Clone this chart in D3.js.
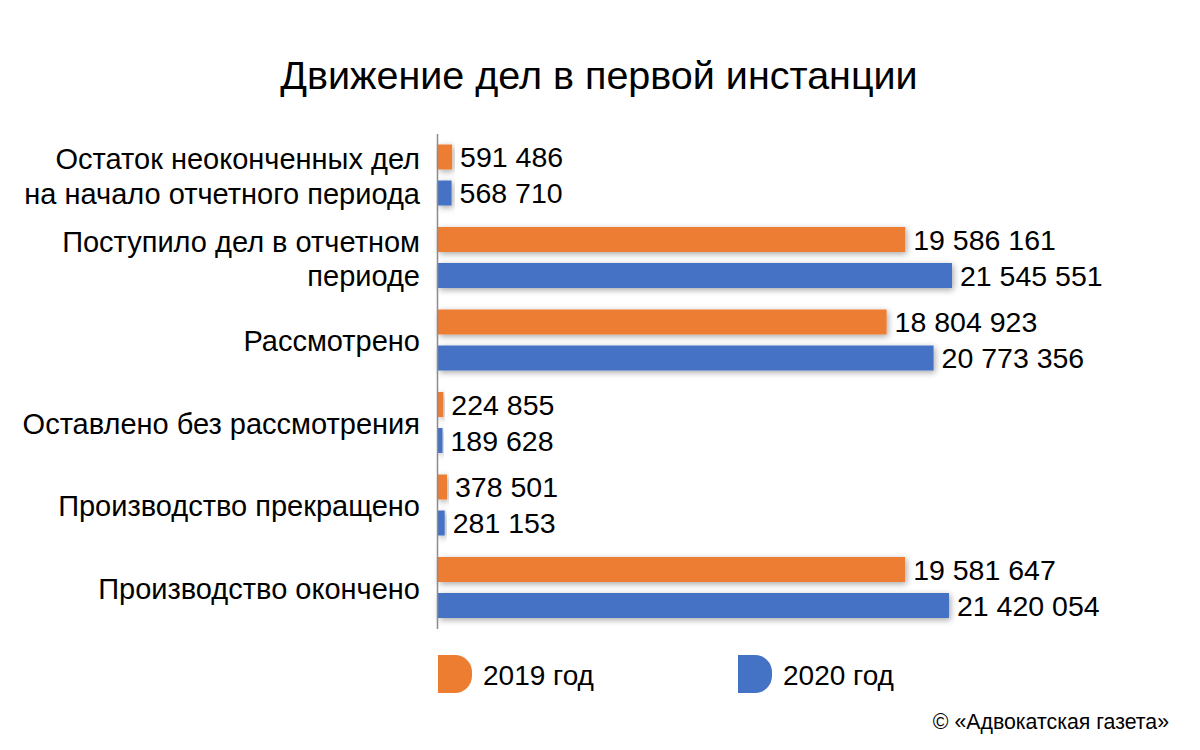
<!DOCTYPE html>
<html>
<head>
<meta charset="utf-8">
<script src="https://cdn.jsdelivr.net/npm/d3@7"></script>
<style>
  html, body { margin: 0; padding: 0; background: #fff; }
  svg { display: block; font-family: "Liberation Sans", Arial, Helvetica, sans-serif; }
</style>
</head>
<body>
<svg id="chart" width="1200" height="750"></svg>
<script>
const title = "Движение дел в первой инстанции";
const categories = [
  "Остаток неоконченных дел\nна начало отчетного периода",
  "Поступило дел в отчетном\nпериоде",
  "Рассмотрено",
  "Оставлено без рассмотрения",
  "Производство прекращено",
  "Производство окончено"
];
const seriesNames = ["2019 год", "2020 год"];
const values2019 = [591486, 19586161, 18804923, 224855, 378501, 19581647];
const values2020 = [568710, 21545551, 20773356, 189628, 281153, 21420054];
const seriesColors = ["#ED7D31", "#4472C4"];
const credit = "© «Адвокатская газета»";

const svg = d3.select("#chart");

// Drop shadow filter
const defs = svg.append("defs");
const f = defs.append("filter").attr("id", "shadow")
  .attr("x", "-10%").attr("y", "-40%").attr("width", "130%").attr("height", "200%");
f.append("feDropShadow").attr("dx", 1.5).attr("dy", 2).attr("stdDeviation", 3)
  .attr("flood-color", "#000").attr("flood-opacity", 0.35);

// Title
svg.append("text")
  .attr("x", 599).attr("y", 89)
  .attr("text-anchor", "middle")
  .attr("font-size", 39.5)
  .attr("fill", "#000")
  .text(title);

const plotLeft = 438, plotTop = 134, plotBottom = 629;
const x = d3.scaleLinear().domain([0, 21545551]).range([plotLeft, 952]);
const y0 = d3.scaleBand().domain(categories).range([plotTop, plotBottom]);
const y1 = d3.scaleBand().domain(seriesNames).range([10.5, 71.5]).paddingInner(0.306);

const rows = categories.map((c, i) => ({
  cat: c,
  vals: [
    { s: seriesNames[0], v: values2019[i], color: seriesColors[0] },
    { s: seriesNames[1], v: values2020[i], color: seriesColors[1] }
  ]
}));

const fmt = v => d3.format(",")(v).replace(/,/g, " ");

const g = svg.append("g");
const groups = g.selectAll("g.cat").data(rows).join("g")
  .attr("class", "cat")
  .attr("transform", d => `translate(0,${y0(d.cat)})`);

groups.selectAll("rect").data(d => d.vals).join("rect")
  .attr("x", x(0))
  .attr("y", d => y1(d.s))
  .attr("width", d => Math.max(1, x(d.v) - x(0)))
  .attr("height", y1.bandwidth())
  .attr("fill", d => d.color)
  .attr("filter", "url(#shadow)");

groups.selectAll("text.val").data(d => d.vals).join("text")
  .attr("class", "val")
  .attr("x", d => x(d.v) + 8)
  .attr("y", d => y1(d.s) + y1.bandwidth() / 2)
  .attr("dy", "0.36em")
  .attr("font-size", 28.5)
  .attr("fill", "#000")
  .text(d => fmt(d.v));

// Category labels
const lineH = 34.5;
groups.each(function(d) {
  const lines = d.cat.split("\n");
  const cy = y0.bandwidth() / 2 + 11;
  const t = d3.select(this).append("text")
    .attr("text-anchor", "end")
    .attr("font-size", 29)
    .attr("fill", "#000");
  lines.forEach((ln, k) => {
    t.append("tspan")
      .attr("x", 420)
      .attr("y", cy + (k - (lines.length - 1) / 2) * lineH)
      .text(ln);
  });
});

// Axis line
svg.append("line")
  .attr("x1", plotLeft - 0.5).attr("x2", plotLeft - 0.5)
  .attr("y1", plotTop).attr("y2", plotBottom)
  .attr("stroke", "#8c8c8c").attr("stroke-width", 1.5);

// Legend
const legendX = [438, 738];
const lw = 34, lh = 38, lr = 17, ly = 655;
seriesNames.forEach((s, i) => {
  const x0 = legendX[i];
  const path = `M${x0},${ly} H${x0 + lw - lr} A${lr},${lr} 0 0 1 ${x0 + lw},${ly + lr} V${ly + lh - lr} A${lr},${lr} 0 0 1 ${x0 + lw - lr},${ly + lh} H${x0} Z`;
  svg.append("path").attr("d", path).attr("fill", seriesColors[i]);
  svg.append("text")
    .attr("x", x0 + lw + 11).attr("y", ly + lh / 2 + 1)
    .attr("dy", "0.36em")
    .attr("font-size", 28)
    .attr("fill", "#000")
    .text(s);
});

// Credit
svg.append("text")
  .attr("x", 1169).attr("y", 729)
  .attr("text-anchor", "end")
  .attr("font-size", 21.3)
  .attr("fill", "#000")
  .text(credit);
</script>
</body>
</html>
